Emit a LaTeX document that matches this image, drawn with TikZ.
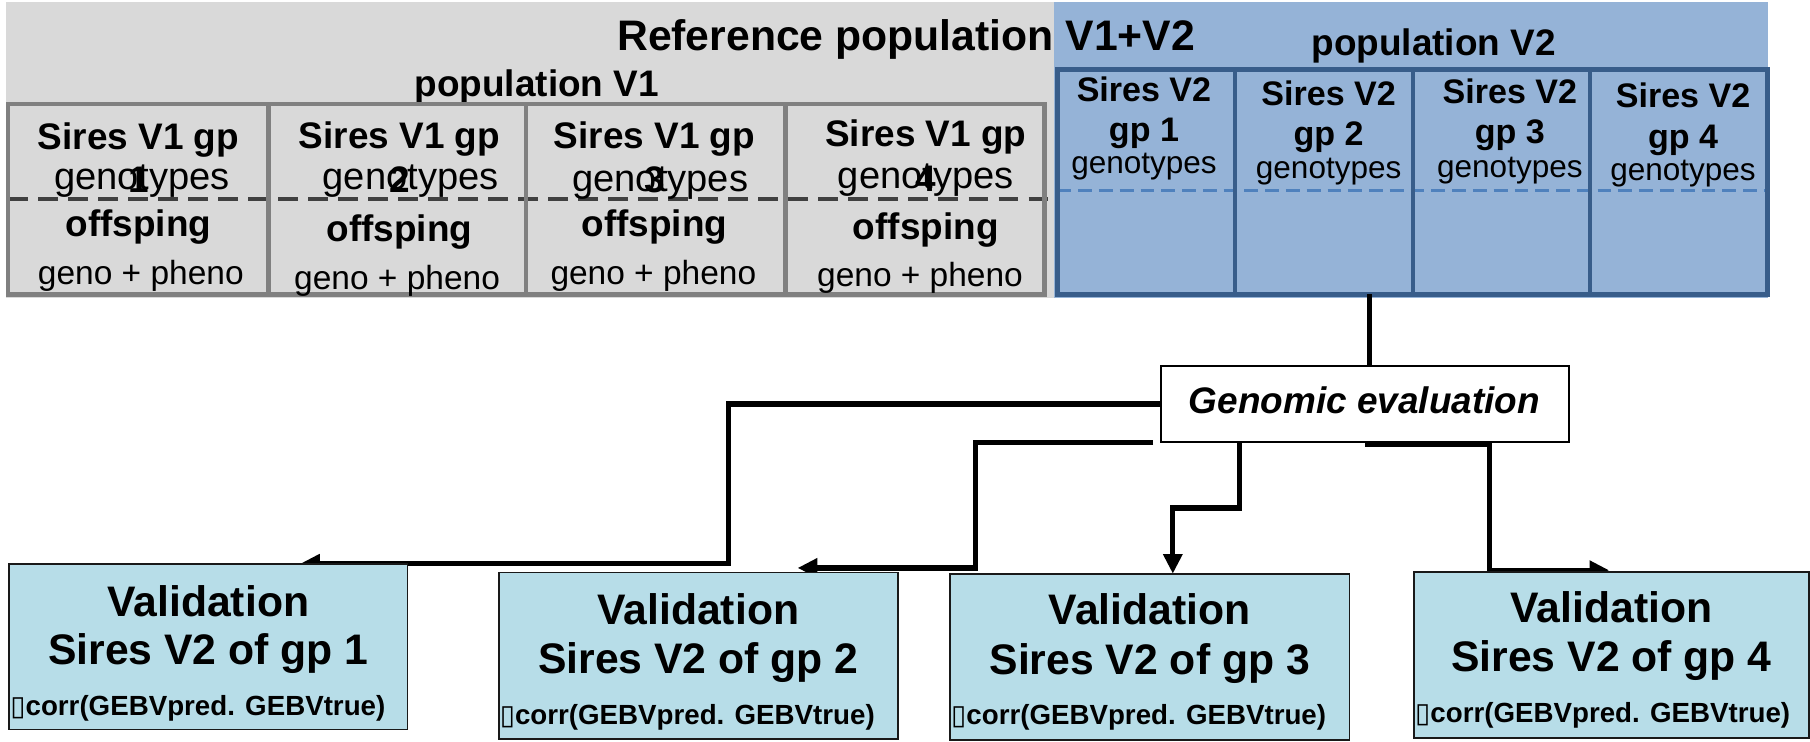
\documentclass[tikz,border=0pt]{standalone}
\usepackage{fontspec}
\setmainfont{Liberation Sans}
\newfontfamily\djv{DejaVu Sans}
\usetikzlibrary{arrows.meta,calc}
\newcommand\fsz[1]{\fontsize{#1}{#1}\selectfont}
\definecolor{greybg}{HTML}{D9D9D9}
\definecolor{bluebg}{HTML}{95B3D7}
\definecolor{vonebord}{HTML}{808080}
\definecolor{vtwobord}{HTML}{385D8A}
\definecolor{vtwodash}{HTML}{4F81BD}
\definecolor{greydash}{HTML}{404040}
\definecolor{valfill}{HTML}{B7DDE8}
\begin{document}
\begin{tikzpicture}[x=1pt,y=-1pt,
  t/.style={anchor=base,inner sep=0pt,outer sep=0pt,text=black},
  conn/.style={line width=4.5pt,black},
  tipped/.style={-{Triangle[length=17pt,width=16pt]}},
  valbox/.style={draw=black!90,line width=1.6pt,fill=valfill,inner sep=0pt,outer sep=0pt},
  gebox/.style={draw=black,line width=1.6pt,fill=white,inner sep=0pt,outer sep=0pt,minimum width=353pt,minimum height=66pt},
  headt/.style={t,font=\fsz{37}\bfseries},
  popt/.style={t,font=\fsz{32}\bfseries},
  vonebold/.style={t,font=\fsz{32}\bfseries},
  vonereg/.style={t,font=\fsz{33}},
  phenot/.style={t,font=\fsz{29}},
  vtwobold/.style={t,font=\fsz{29.5}\bfseries},
  vtworeg/.style={t,font=\fsz{27.3}},
  valt/.style={t,font=\fsz{37}\bfseries},
  corrt/.style={anchor=base west,inner sep=0pt,outer sep=0pt,font=\fsz{24}\bfseries}
]
\useasboundingbox (0,0) rectangle (1568,642);
% backgrounds
\fill[greybg] (5,2) rectangle (913,258);
\fill[bluebg] (913,2) rectangle (1532,258);
% titles
\node[headt] (title) at (785,44) {Reference population V1+V2};
\node[popt] (ptwo) at (1242,48) {population V2};
\node[popt] (pone) at (465,84) {population V1};
% V1 group
\draw[greydash,line width=3.5pt,dash pattern=on 17pt off 9pt] (7,172.5) -- (913,172.5);
\draw[vonebord,line width=4pt] (7,90) rectangle (905,255);
\foreach \xx in {232.5,455.6,680.4} \draw[vonebord,line width=4pt] (\xx,90) -- (\xx,255);
% V1 cell texts
\foreach \cx/\sy/\gx/\gy/\dy/\oy/\px/\py/\n in {120/129.3/123/164.5/167/205/122/246.8/1,346/128.5/355.7/163.8/167/209/344/251/2,567/128.5/572/166/167/205/566/246.8/3,802/127/802/163/166/207.8/797/248/4}{
  \node[vonebold] at (\cx,\sy) {Sires V1 gp};
  \node[vonereg] at (\gx,\gy) {genotypes};
  \node[vonebold] at (\cx,\dy) {\n};
  \node[vonebold] at (\cx,\oy) {offsping};
  \node[phenot] at (\px,\py) {geno + pheno};
}
% V2 group
\draw[vtwodash,line width=2.9pt,dash pattern=on 12pt off 6pt] (916,165) -- (1531,165);
\node[draw=vtwobord,line width=4pt,minimum width=615pt,minimum height=195pt,inner sep=0pt,outer sep=0pt,anchor=north west] (gtwo) at (916,60) {};
\foreach \xx in {1070,1224,1377.5} \draw[vtwobord,line width=4pt] (\xx,60) -- (\xx,255);
\foreach \cx/\sy/\gy/\ty/\n in {991/88/122.7/150/1,1151/91/126.4/154.4/2,1308/89.5/124/153.6/3,1458/93/128.5/156.5/4}{
  \node[vtwobold] at (\cx,\sy) {Sires V2};
  \node[vtwobold] at (\cx,\gy) {gp \n};
  \node[vtworeg] at (\cx,\ty) {genotypes};
}
% genomic evaluation
\node[gebox] (ge) at (1182.5,350) {};
\node[t,font=\fsz{32}\bfseries\itshape] at (1182,358) {Genomic evaluation};
\draw[conn] (gtwo.south -| 1186.3,0) -- (ge.north -| 1186.3,0);
% validation box anchors
\coordinate (vaone) at (260,488.4);
\coordinate (vatwo) at (691,492);
\coordinate (vathree) at (1016,497);
\coordinate (vafour) at (1394,494);
% connectors
\draw[conn,tipped] (ge.west |- 0,350) -- (631,350) -- (631,488.4) -- (vaone);
\draw[conn,tipped] ($(ge.south west)+(-7,0)$) -- (845,383) -- (845,492) -- (vatwo);
\draw[conn,tipped] (ge.south -| 1073.5,0) -- (1073.5,440) -- (1016,440) -- (vathree);
\draw[conn,tipped] ($(ge.south)+(0,2)$) -- (1290,385) -- (1290,494) -- (vafour);
% validation boxes
\node[valbox,minimum width=345pt,minimum height=143.6pt,anchor=north west] (vone) at (8,488.4) {};
\node[valbox,minimum width=346pt,minimum height=144pt,anchor=north west] (vtwo) at (432,496) {};
\node[valbox,minimum width=346pt,minimum height=144pt,anchor=north west] (vthree) at (823,497) {};
\node[valbox,minimum width=342pt,minimum height=143.5pt,anchor=north west] (vfour) at (1225,495.5) {};
\foreach \b/\vy/\sy/\cy/\n in {vone/534/576/620/1,vtwo/541/583.7/628/2,vthree/541/584/628/3,vfour/539/582/626/4}{
  \node[valt] at (\b.north |- 0,\vy) {Validation};
  \node[valt] at (\b.north |- 0,\sy) {Sires V2 of gp \n};
  \node[corrt] at ($(\b.west |- 0,\cy)+(1,0)$) {{\djv\mdseries ▯}corr(GEBVpred. GEBVtrue)};
}
\end{tikzpicture}
\end{document}
